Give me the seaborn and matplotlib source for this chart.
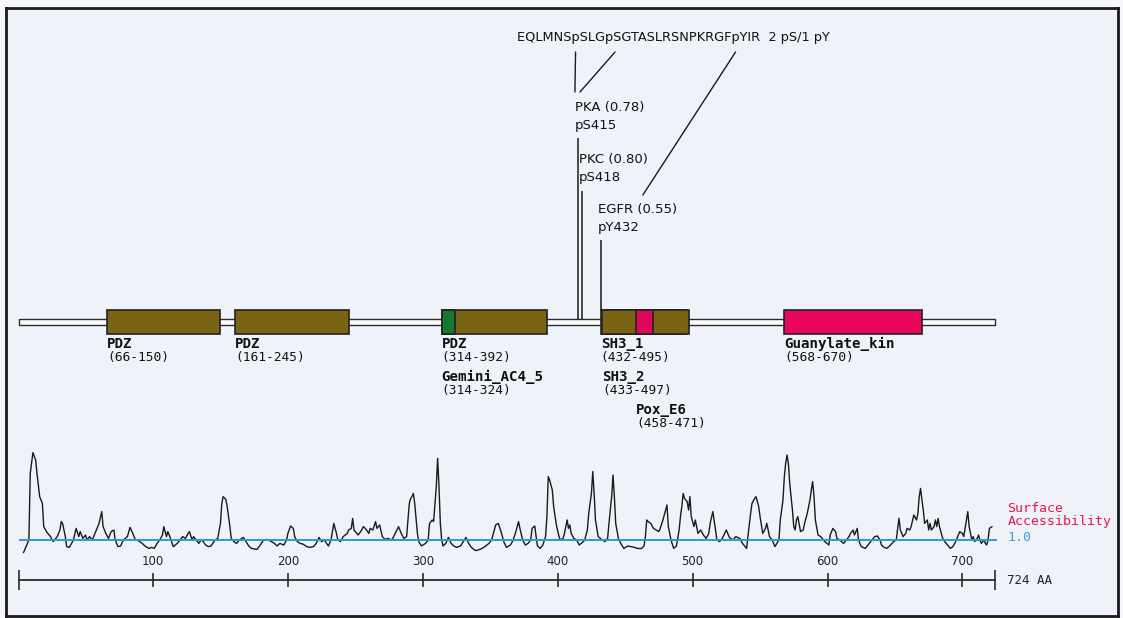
import matplotlib
matplotlib.use("Agg")
import matplotlib.pyplot as plt
import seaborn as sns
from matplotlib.font_manager import FontProperties

sns.set_theme(style="white")
plt.rcParams["font.family"] = ["DejaVu Sans"]

# ---------------------------------------------------------------- data
protein_length = 724

domain_names = ["PDZ", "PDZ", "PDZ", "Gemini_AC4_5", "SH3_1", "SH3_2", "Pox_E6", "Guanylate_kin"]
domain_starts = [66, 161, 314, 314, 432, 433, 458, 568]
domain_ends = [150, 245, 392, 324, 495, 497, 471, 670]
domain_kinds = ["PDZ", "PDZ", "PDZ", "Gemini", "SH3", "SH3", "PoxE6", "GK"]
domain_label_rows = [0, 0, 0, 1, 0, 1, 2, 0]

peptide = "EQLMNSpSLGpSGTASLRSNPKRGFpYIR"
peptide_note = "2 pS/1 pY"
site_residues = [415, 418, 432]
site_kinases = ["PKA", "PKC", "EGFR"]
site_scores = [0.78, 0.80, 0.55]
site_names = ["pS415", "pS418", "pY432"]

ruler_ticks = [100, 200, 300, 400, 500, 600, 700]
access_baseline = 1.0

access_residue = [
    4, 8, 9, 11, 13, 14, 16, 18, 19, 21, 24, 26, 29, 31, 32, 33, 35, 36, 38, 41,
    43, 45, 46, 48, 50, 51, 53, 55, 57, 59, 60, 62, 63, 65, 67, 69, 71, 72, 74, 76,
    78, 81, 83, 85, 87, 89, 92, 94, 97, 99, 101, 103, 105, 107, 108, 110, 111, 113, 115, 118,
    120, 122, 124, 126, 127, 129, 130, 132, 134, 136, 139, 141, 143, 146, 148, 150, 151, 152, 154, 155,
    157, 158, 160, 162, 164, 167, 169, 171, 173, 177, 179, 182, 184, 187, 190, 192, 194, 197, 199, 200,
    202, 204, 205, 207, 209, 211, 214, 216, 219, 221, 223, 225, 227, 230, 232, 234, 236, 237, 239, 241,
    244, 245, 247, 248, 249, 250, 252, 254, 256, 258, 260, 261, 263, 265, 266,
    268, 270, 272, 274, 277, 279, 282, 284, 286, 288, 289, 290, 291, 292, 293, 294, 296, 297, 299, 302,
    304, 305, 307, 308, 310, 311, 312, 313, 314, 315, 317, 319, 321, 323, 325, 328, 330, 332, 334, 336,
    339, 341, 344, 346, 349, 351, 353, 354, 356, 358, 360, 362, 365, 367, 369, 371, 372, 374, 376, 378,
    380, 381, 383, 384, 385, 387, 389, 391, 392, 393, 394, 396, 397, 399, 401, 402, 404, 405, 407, 408,
    409, 410, 412, 414, 416, 419, 420, 422, 423, 425, 426, 427, 428, 430, 433, 435, 437, 438, 440, 441,
    442, 443, 445, 447, 449, 452, 454, 457, 459, 462, 464, 465, 466, 467, 469, 471, 473, 475, 476, 478,
    480, 481, 482, 484, 486, 488, 490, 491, 492, 493, 494, 496, 497, 498, 499, 501, 502, 503, 504, 506,
    508, 510, 512, 513, 515, 517, 518, 520, 522, 525, 527, 528, 530, 532, 535, 537, 540, 541, 543, 544,
    546, 547, 549, 550,
    552, 554, 555, 557, 559, 561, 564, 565, 567, 568, 569, 570, 571, 572, 574, 575, 576, 577, 578, 580,
    582, 583, 585, 587, 588, 589, 590, 591, 593, 595, 597, 598, 601, 602, 604, 606, 607, 609, 612, 614,
    616, 617, 619, 620, 622, 623, 625, 628, 630, 633, 635, 637, 639, 640, 642, 644, 646, 649, 651, 652,
    653, 654, 656, 658, 659, 661, 662, 664, 666, 667, 668, 669, 670, 671, 672, 674, 675, 676, 677, 679,
    680, 681, 682, 683, 685, 686, 688, 690, 691, 693, 695, 697, 698, 700, 701, 702, 703, 704, 705, 706,
    707, 708, 709, 711, 712, 713, 714, 716, 717, 718, 719, 720, 722,
]
access_score = [
    0.37, 1.00, 4.33, 5.37, 5.00, 4.33, 3.17, 2.83, 1.67, 1.42, 1.17, 0.92, 1.17, 1.50, 1.92, 1.83, 1.17, 0.67, 0.63, 1.00,
    1.58, 1.17, 1.42, 1.08, 1.25, 1.00, 1.17, 1.00, 1.33, 1.67, 1.83, 2.42, 1.67, 1.33, 1.08, 1.42, 1.50, 1.00, 0.67, 0.70,
    1.00, 1.17, 1.63, 1.33, 1.00, 0.97, 0.83, 0.70, 0.58, 0.63, 0.58, 0.83, 1.00, 1.25, 1.67, 1.17, 1.42, 1.08, 0.67, 0.83,
    1.00, 1.17, 1.08, 1.33, 1.42, 1.00, 1.17, 1.00, 0.83, 1.03, 0.75, 0.67, 0.70, 1.00, 1.08, 1.83, 2.83, 3.17, 3.03, 2.67,
    1.67, 1.08, 0.92, 0.83, 1.00, 1.13, 0.92, 0.70, 0.58, 0.53, 0.70, 1.00, 1.03, 0.95, 0.83, 0.70, 0.83, 0.75, 1.00, 1.33,
    1.70, 1.58, 1.17, 0.92, 0.83, 0.80, 0.67, 0.63, 0.67, 0.83, 1.13, 0.92, 1.00, 0.70, 1.00, 1.83, 1.33, 1.00, 0.92, 1.17,
    1.33, 1.50, 1.58, 2.08, 1.50, 1.42, 1.25, 1.42, 1.67, 1.53, 1.33, 1.58, 1.50, 1.92, 1.58,
    1.75, 1.17, 1.03, 1.08, 1.00, 1.25, 1.67, 1.33, 1.08, 1.17, 2.00, 2.83, 3.08, 3.17, 3.33, 2.83, 1.33, 0.92, 0.70, 0.83,
    1.00, 1.83, 2.00, 1.92, 3.67, 5.08, 3.67, 1.83, 1.00, 0.70, 0.83, 1.13, 0.83, 0.70, 0.63, 0.70, 0.92, 1.13, 0.83, 0.63,
    0.47, 0.50, 0.58, 0.67, 0.83, 1.00, 1.50, 1.75, 1.83, 1.42, 0.92, 0.63, 0.75, 1.00, 1.42, 1.92, 1.58, 1.00, 0.75, 0.83,
    1.00, 1.58, 1.70, 1.17, 0.70, 0.58, 0.75, 1.17, 2.17, 4.17, 4.00, 3.50, 2.67, 1.75, 1.17, 1.00, 1.08, 1.33, 2.00, 1.58,
    1.75, 1.33, 1.08, 1.00, 0.75, 0.92, 1.00, 1.50, 2.33, 3.33, 4.42, 3.33, 2.00, 1.17, 1.00, 0.92, 1.08, 1.83, 3.17, 4.25,
    3.17, 1.83, 1.08, 0.80, 0.58, 0.70, 0.67, 0.63, 0.58, 0.57, 0.70, 1.17, 2.00, 1.92, 1.83, 1.58, 1.50, 1.42, 1.58, 2.00,
    2.50, 2.75, 1.67, 1.00, 0.58, 0.70, 1.50, 2.17, 2.67, 3.33, 3.08, 2.92, 2.50, 3.17, 2.17, 1.67, 2.00, 1.67, 1.33, 1.50,
    1.25, 1.08, 1.33, 1.83, 2.42, 1.50, 1.00, 0.92, 1.08, 1.50, 1.17, 1.08, 1.00, 1.17, 1.08, 0.83, 0.58, 1.17, 2.33, 2.83,
    3.08, 3.17, 2.67, 2.17,
    1.33, 1.58, 1.83, 1.17, 1.00, 0.67, 1.00, 2.00, 3.00, 4.17, 4.83, 5.25, 4.83, 3.83, 2.50, 1.67, 1.50, 2.00, 2.17, 1.42,
    1.50, 1.83, 2.33, 3.00, 3.50, 3.92, 3.17, 2.00, 1.25, 1.17, 1.00, 0.92, 0.75, 1.25, 1.58, 1.42, 1.08, 1.00, 0.83, 1.00,
    1.17, 1.33, 1.50, 1.25, 1.58, 1.00, 0.67, 0.58, 0.75, 1.00, 1.17, 1.20, 1.00, 0.75, 0.63, 0.58, 0.70, 0.92, 1.00, 1.58,
    2.08, 1.50, 1.17, 1.33, 1.58, 1.50, 1.67, 2.25, 2.00, 2.33, 3.17, 3.58, 3.00, 2.50, 1.83, 2.00, 1.50, 1.83, 1.50, 1.67,
    2.00, 1.67, 2.08, 1.67, 1.17, 1.00, 0.83, 0.67, 0.58, 0.67, 0.92, 1.25, 1.42, 1.33, 1.17, 1.58, 2.00, 2.42, 1.67, 1.33,
    1.00, 1.17, 0.92, 1.08, 1.25, 1.00, 0.83, 1.00, 0.83, 0.75, 1.00, 1.58, 1.67,
]

# ---------------------------------------------------------------- styling
domain_colors = {
    "PDZ": "#7b6314",
    "SH3": "#7b6314",
    "Gemini": "#167a2c",
    "PoxE6": "#e0085a",
    "GK": "#e8075d",
}
overlay_kinds = {"Gemini", "PoxE6"}
EDGE = "#222222"
MONO = "DejaVu Sans Mono"
SANS = "DejaVu Sans"

W, H = 1123, 618
RES0_PX = 18.1        # pixel column of residue 0
PX_PER_RES = 1.349    # horizontal pixels per residue


def res_at(px):
    return (px - RES0_PX) / PX_PER_RES


fig = plt.figure(figsize=(W / 100, H / 100), dpi=100, facecolor="#f5f7fb")

# main panel: x in residues, y in rows counted down from the top
FL, FT, FR, FB = 6, 8, 1118, 616
ax = fig.add_axes([FL / W, (H - FB) / H, (FR - FL) / W, (FB - FT) / H])
ax.set_xlim(res_at(FL), res_at(FR))
ax.set_ylim(FB, FT)
ax.set_facecolor("#eff3f9")
ax.set_xticks([])
ax.set_yticks([])
for sp in ax.spines.values():
    sp.set_visible(True)
    sp.set_color("#1a1a1a")
    sp.set_linewidth(2.0)

# protein backbone and domains
TRACK_Y = 321.5
BOX_H = 24
ax.barh(TRACK_Y, protein_length - 1, left=1, height=6, color="white",
        edgecolor="#2a2a2a", linewidth=1.0, zorder=2)
for layer in (False, True):
    for name, s, e, kind in zip(domain_names, domain_starts, domain_ends, domain_kinds):
        if (kind in overlay_kinds) != layer:
            continue
        ax.barh(TRACK_Y, e - s, left=s, height=BOX_H, color=domain_colors[kind],
                edgecolor=EDGE, linewidth=1.2, zorder=4 if layer else 3)

# domain captions
NAME_Y0, RANGE_Y0, ROW_STEP = 344, 357.5, 33
for name, s, e, row in zip(domain_names, domain_starts, domain_ends, domain_label_rows):
    ax.text(s, NAME_Y0 + ROW_STEP * row, name, family=MONO, fontweight="bold",
            fontsize=10.2, color="#111111", ha="left", va="center")
    ax.text(s, RANGE_Y0 + ROW_STEP * row, f"({s}-{e})", family=MONO,
            fontsize=9.3, color="#111111", ha="left", va="center")

# phosphorylation sites
SITE_ROWS = [107, 160, 209]
LINE_GAP = 18
label_dx = -3 / PX_PER_RES
for r, kin, sc, nm, row in zip(site_residues, site_kinases, site_scores, site_names, SITE_ROWS):
    ax.text(r + label_dx, row, f"{kin} ({sc:.2f})", family=SANS, fontsize=9.5,
            color="#111111", ha="left", va="center")
    ax.text(r + label_dx, row + LINE_GAP, nm, family=SANS, fontsize=9.5,
            color="#111111", ha="left", va="center")
    inside = any(s <= r <= e for s, e in zip(domain_starts, domain_ends))
    stop = TRACK_Y - (BOX_H / 2 if inside else 3)
    ax.vlines(r, row + LINE_GAP + 13, stop, color="#1a1a1a", linewidth=1.1, zorder=5)

# peptide with connectors from each phospho residue to its site label
PEP_LEFT_PX, PEP_Y = 517, 38
pep_prop = FontProperties(family=SANS, size=9.3)
ax.text(res_at(PEP_LEFT_PX), PEP_Y, f"{peptide}  {peptide_note}", fontproperties=pep_prop,
        color="#111111", ha="left", va="center")
renderer = fig.canvas.get_renderer()


def text_px(s):
    return renderer.get_text_width_height_descent(s, pep_prop, ismath=False)[0]


p_idx = [i for i, ch in enumerate(peptide) if ch == "p"]
CONNECT_END = [(0, 92), (1, 92), (45, 195)]
CONNECT_SHIFT = [0, 6, 0]
for k, (i, r) in enumerate(zip(p_idx, site_residues)):
    top_x = PEP_LEFT_PX + text_px(peptide[:i]) + text_px("p") / 2 + CONNECT_SHIFT[k]
    dx, end_y = CONNECT_END[k]
    end_x = (r * PX_PER_RES + RES0_PX) - 3 + dx
    ax.plot([res_at(top_x), res_at(end_x)], [PEP_Y + 14, end_y],
            color="#1a1a1a", linewidth=1.0)

# surface accessibility profile and residue ruler
ax2 = fig.add_axes([0, (H - 580) / H, 1, 140 / H])
ax2.set_xlim(res_at(0), res_at(W))
ax2.set_ylim(-1.0, 6.0)
ax2.patch.set_alpha(0)
sns.lineplot(x=access_residue, y=access_score, ax=ax2, color="#1a1a1a",
             linewidth=1.0, estimator=None, sort=False, zorder=3)
ax2.hlines(access_baseline, 1, protein_length + 2, color="#2e9acb", linewidth=1.4, zorder=4)

for side in ("left", "right", "top"):
    ax2.spines[side].set_visible(False)
ax2.spines["bottom"].set_bounds(1, protein_length)
ax2.spines["bottom"].set_color("#2a2a2a")
ax2.spines["bottom"].set_linewidth(1.3)
ax2.set_yticks([])
ax2.set_xticks(ruler_ticks)
ax2.set_xticklabels([str(t) for t in ruler_ticks])
ax2.set_xticks([1, protein_length], minor=True)
ax2.tick_params(axis="x", which="both", bottom=True, direction="inout",
                color="#2a2a2a", width=1.2)
ax2.tick_params(axis="x", which="major", length=10, pad=-23, labelsize=8.5,
                labelcolor="#222222")
ax2.tick_params(axis="x", which="minor", length=15)
ax2.set_xlabel("")
ax2.set_ylabel("")

ax2.annotate(f"{protein_length} AA", xy=(protein_length, -1.0), xytext=(9, 0),
             textcoords="offset points", family=MONO, fontsize=9, color="#222222",
             ha="left", va="center", annotation_clip=False)
ax2.annotate(f"{access_baseline:.1f}", xy=(protein_length, access_baseline), xytext=(9, 1.5),
             textcoords="offset points", family=MONO, fontsize=9.5, color="#3d9fd3",
             ha="left", va="center", annotation_clip=False)
ax2.annotate("Surface\nAccessibility", xy=(protein_length, access_baseline), xytext=(9, 9),
             textcoords="offset points", family=MONO, fontsize=9.5, color="#e3174b",
             ha="left", va="bottom", linespacing=0.9, annotation_clip=False)

fig.savefig("out.png", dpi=100, facecolor=fig.get_facecolor())
